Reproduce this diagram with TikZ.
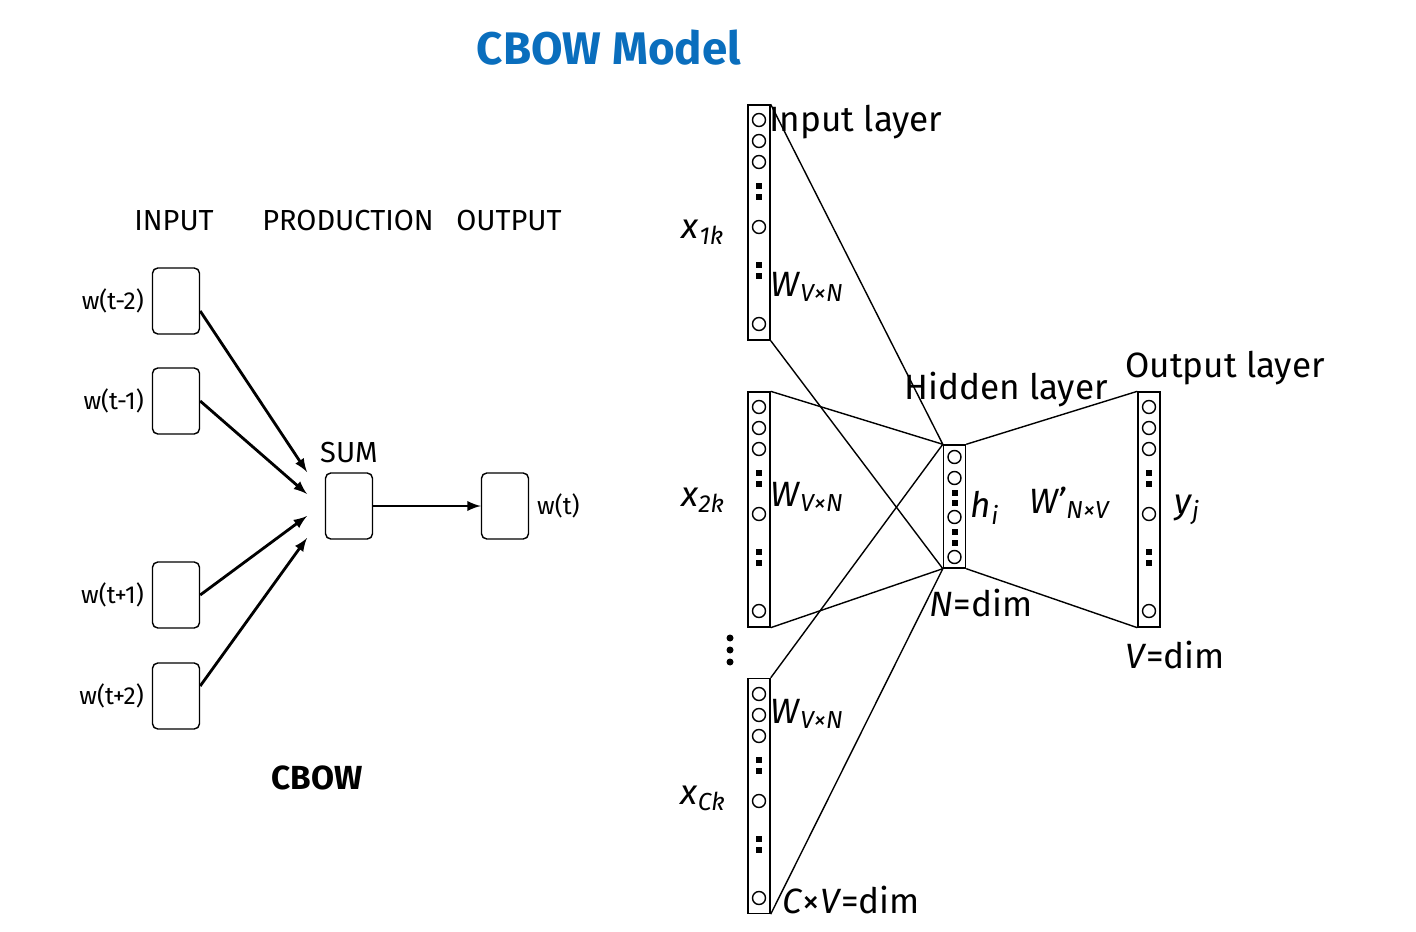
\documentclass[tikz,border=0pt]{standalone}
\usepackage{fontspec}
\setmainfont{Fira Sans}
\usetikzlibrary{positioning}
\definecolor{titleblue}{HTML}{0A6EBD}
\tikzset{
  wbox/.style={draw,thick,rounded corners=3pt,minimum width=0.94cm,minimum height=1.32cm},
  layer/.style={draw,thick,minimum width=0.44cm,inner sep=0pt},
  lbl/.style={font=\fontsize{14}{16}\selectfont},
  head/.style={font=\fontsize{16.5}{18}\selectfont},
  big/.style={font=\fontsize{20}{22}\selectfont},
  arr/.style={line width=1.6pt,-latex},
}
% circles and squares inside a layer column
\newcommand{\units}[4]{% x, top, circle offsets, square offsets
  \foreach \o in {#3} \draw[thick] (#1,#2+\o) circle (0.13cm);
  \foreach \o in {#4} \fill (#1-3,#2+\o-3) rectangle (#1+3,#2+\o+3);
}
\begin{document}
\begin{tikzpicture}[x=0.02cm,y=-0.02cm]
  \useasboundingbox (0,0) rectangle (1416,932);

  %\draw [help lines] (0,0) grid (1416,932);

  \node (title) at (609,48) [font=\bfseries\fontsize{26}{28}\selectfont,text=titleblue] {CBOW Model};

  % left part
  \node (hin)  at (174,221) [head] {INPUT};
  \node (hpro) at (348,221) [head] {PRODUCTION};
  \node (hout) at (509,221) [head] {OUTPUT};

  \node (w1) at (176,301) [wbox] {};
  \node (w2) at (176,401) [wbox] {};
  \node (w3) at (176,595) [wbox] {};
  \node (w4) at (176,696) [wbox] {};
  \node (sum) at (349,506) [wbox] {};
  \node (out) at (505,506) [wbox] {};

  \node [lbl,left=1pt of w1] {w(t-2)};
  \node [lbl,left=1pt of w2] {w(t-1)};
  \node [lbl,left=1pt of w3] {w(t+1)};
  \node [lbl,left=1pt of w4] {w(t+2)};
  \node [lbl,right=1pt of out] {w(t)};
  \node [head,above=2pt of sum] {SUM};
  \node (cbow) at (317,778) [font=\bfseries\fontsize{19}{21}\selectfont] {CBOW};

  \coordinate (s1) at (307,472);
  \coordinate (s2) at (307,494);
  \coordinate (s3) at (307,516);
  \coordinate (s4) at (307,538);
  \draw[arr] (w1.east) ++(0,10) -- (s1);
  \draw[arr] (w2.east) -- (s2);
  \draw[arr] (w3.east) -- (s3);
  \draw[arr] (w4.east) ++(0,-10) -- (s4);
  \draw[arr] (sum) -- (out);

  % right part
  \node (in1) at (759,222.5) [layer,minimum height=4.7cm] {};
  \node (in2) at (759,509.5) [layer,minimum height=4.7cm] {};
  \node (in3) at (759,796) [layer,minimum height=4.7cm] {};
  \node (hid) at (954.5,506.5) [layer,minimum height=2.46cm] {};
  \node (outl) at (1149,509.5) [layer,minimum height=4.7cm] {};

  \units{759}{105}{15,36,57,122,219}{81,92,160,171}
  \units{759}{392}{15,36,57,122,219}{81,92,160,171}
  \units{759}{679}{15,36,57,122,219}{81,92,160,171}
  \units{1149}{392}{15,36,57,122,219}{81,92,160,171}
  \units{954.5}{445}{12,33,72,112}{48,58,87,98}

  \draw[thick] (in1.north east) -- (hid.north west);
  \draw[thick] (in1.south east) -- (hid.south west);
  \draw[thick] (in2.north east) -- (hid.north west);
  \draw[thick] (in2.south east) -- (hid.south west);
  \draw[thick] (in3.north east) -- (hid.north west);
  \draw[thick] (in3.south east) -- (hid.south west);
  \draw[thick] (hid.north east) -- (outl.north west);
  \draw[thick] (hid.south east) -- (outl.south west);

  \foreach \y in {638,650,662} \fill (730,\y) circle (0.07cm);

  \node (linp) at (856,122) [big] {Input layer};
  \node (lhid) at (1006,390) [big] {Hidden layer};
  \node (lout) at (1225,368) [big] {Output layer};
  \node (x1) at (703,232) [big] {\textit{x}\textsubscript{\textit{1k}}};
  \node (x2) at (703,500) [big] {\textit{x}\textsubscript{\textit{2k}}};
  \node (x3) at (703,798) [big] {\textit{x}\textsubscript{\textit{Ck}}};
  \node (m1) at (807,287) [big] {\textit{W}\textsubscript{\textit{V×N}}};
  \node (m2) at (807,497) [big] {\textit{W}\textsubscript{\textit{V×N}}};
  \node (m3) at (807,714) [big] {\textit{W}\textsubscript{\textit{V×N}}};
  \node (hi) at (985,508) [big] {\textit{h}\textsubscript{\textit{i}}};
  \node (mo) at (1070,503) [big] {\textit{W'}\textsubscript{\textit{N×V}}};
  \node (yj) at (1187,510) [big] {\textit{y}\textsubscript{\textit{j}}};
  \node (nd) at (981,603) [big] {\textit{N}=dim};
  \node (vd) at (1175,655) [big] {\textit{V}=dim};
  \node (cd) at (851,900) [big] {\textit{C}×\textit{V}=dim};
\end{tikzpicture}
\end{document}
